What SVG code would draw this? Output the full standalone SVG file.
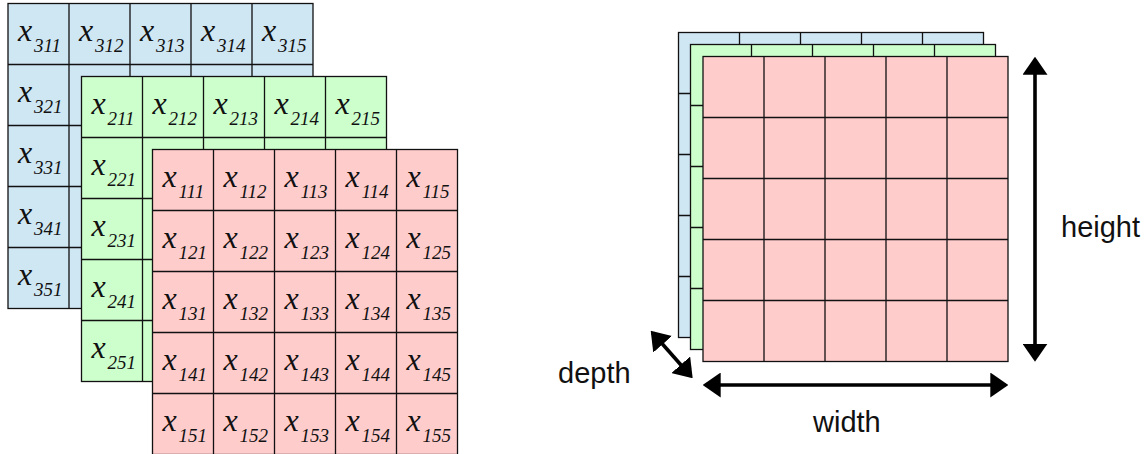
<svg xmlns="http://www.w3.org/2000/svg" xmlns:xlink="http://www.w3.org/1999/xlink" width="1146" height="454" viewBox="0 0 1146 454">
<style>
.b{fill:#cfe6f3}.g{fill:#ccffcc}.r{fill:#ffcccc}
.frame{stroke:#111;stroke-width:1.3}
.lines{fill:none;stroke:#111;stroke-width:1.3}
.v{font-family:"Liberation Serif",serif;font-style:italic;font-size:32px;fill:#111}
.s{font-size:19px}
.lab{font-family:"Liberation Sans",Arial,sans-serif;font-size:29px;fill:#111}
.arr{stroke:#000;stroke-width:3.6;fill:none;marker-start:url(#ah);marker-end:url(#ah)}
</style>
<defs>
<marker id="ah" markerUnits="userSpaceOnUse" viewBox="0 0 18 25" refX="15" refY="12.5" markerWidth="18" markerHeight="25" orient="auto-start-reverse"><path d="M0,0L18,12.5L0,25z" fill="#000"/></marker>
<path id="gl" d="M61,0V305M122,0V305M183,0V305M244,0V305M0,61H305M0,122H305M0,183H305M0,244H305"/>
</defs>
<g id="left-blue" transform="translate(8,3.5)">
<rect class="b frame" width="305" height="305"/><use href="#gl" class="lines"/>
<text class="v" x="10" y="37">x<tspan class="s" x="26" y="48">311</tspan></text>
<text class="v" x="71" y="37">x<tspan class="s" x="87" y="48">312</tspan></text>
<text class="v" x="132" y="37">x<tspan class="s" x="148" y="48">313</tspan></text>
<text class="v" x="193" y="37">x<tspan class="s" x="209" y="48">314</tspan></text>
<text class="v" x="254" y="37">x<tspan class="s" x="270" y="48">315</tspan></text>
<text class="v" x="10" y="98">x<tspan class="s" x="26" y="109">321</tspan></text>
<text class="v" x="10" y="159">x<tspan class="s" x="26" y="170">331</tspan></text>
<text class="v" x="10" y="220">x<tspan class="s" x="26" y="231">341</tspan></text>
<text class="v" x="10" y="281">x<tspan class="s" x="26" y="292">351</tspan></text>
</g>
<g id="left-green" transform="translate(81.5,76.5)">
<rect class="g frame" width="305" height="305"/><use href="#gl" class="lines"/>
<text class="v" x="10" y="37">x<tspan class="s" x="26" y="48">211</tspan></text>
<text class="v" x="71" y="37">x<tspan class="s" x="87" y="48">212</tspan></text>
<text class="v" x="132" y="37">x<tspan class="s" x="148" y="48">213</tspan></text>
<text class="v" x="193" y="37">x<tspan class="s" x="209" y="48">214</tspan></text>
<text class="v" x="254" y="37">x<tspan class="s" x="270" y="48">215</tspan></text>
<text class="v" x="10" y="98">x<tspan class="s" x="26" y="109">221</tspan></text>
<text class="v" x="10" y="159">x<tspan class="s" x="26" y="170">231</tspan></text>
<text class="v" x="10" y="220">x<tspan class="s" x="26" y="231">241</tspan></text>
<text class="v" x="10" y="281">x<tspan class="s" x="26" y="292">251</tspan></text>
</g>
<g id="left-red" transform="translate(152.5,149.5)">
<rect class="r frame" width="305" height="305"/><use href="#gl" class="lines"/>
<text class="v" x="10" y="37">x<tspan class="s" x="26" y="48">111</tspan></text>
<text class="v" x="71" y="37">x<tspan class="s" x="87" y="48">112</tspan></text>
<text class="v" x="132" y="37">x<tspan class="s" x="148" y="48">113</tspan></text>
<text class="v" x="193" y="37">x<tspan class="s" x="209" y="48">114</tspan></text>
<text class="v" x="254" y="37">x<tspan class="s" x="270" y="48">115</tspan></text>
<text class="v" x="10" y="98">x<tspan class="s" x="26" y="109">121</tspan></text>
<text class="v" x="71" y="98">x<tspan class="s" x="87" y="109">122</tspan></text>
<text class="v" x="132" y="98">x<tspan class="s" x="148" y="109">123</tspan></text>
<text class="v" x="193" y="98">x<tspan class="s" x="209" y="109">124</tspan></text>
<text class="v" x="254" y="98">x<tspan class="s" x="270" y="109">125</tspan></text>
<text class="v" x="10" y="159">x<tspan class="s" x="26" y="170">131</tspan></text>
<text class="v" x="71" y="159">x<tspan class="s" x="87" y="170">132</tspan></text>
<text class="v" x="132" y="159">x<tspan class="s" x="148" y="170">133</tspan></text>
<text class="v" x="193" y="159">x<tspan class="s" x="209" y="170">134</tspan></text>
<text class="v" x="254" y="159">x<tspan class="s" x="270" y="170">135</tspan></text>
<text class="v" x="10" y="220">x<tspan class="s" x="26" y="231">141</tspan></text>
<text class="v" x="71" y="220">x<tspan class="s" x="87" y="231">142</tspan></text>
<text class="v" x="132" y="220">x<tspan class="s" x="148" y="231">143</tspan></text>
<text class="v" x="193" y="220">x<tspan class="s" x="209" y="231">144</tspan></text>
<text class="v" x="254" y="220">x<tspan class="s" x="270" y="231">145</tspan></text>
<text class="v" x="10" y="281">x<tspan class="s" x="26" y="292">151</tspan></text>
<text class="v" x="71" y="281">x<tspan class="s" x="87" y="292">152</tspan></text>
<text class="v" x="132" y="281">x<tspan class="s" x="148" y="292">153</tspan></text>
<text class="v" x="193" y="281">x<tspan class="s" x="209" y="292">154</tspan></text>
<text class="v" x="254" y="281">x<tspan class="s" x="270" y="292">155</tspan></text>
</g>
<g id="right-blue" transform="translate(678.5,32.5)"><rect class="b frame" width="305" height="305"/><use href="#gl" class="lines"/></g>
<g id="right-green" transform="translate(690.5,44.5)"><rect class="g frame" width="305" height="305"/><use href="#gl" class="lines"/></g>
<g id="right-red" transform="translate(703,56.5)"><rect class="r frame" width="305" height="305"/><use href="#gl" class="lines"/></g>
<g id="connectors">
<line class="arr" x1="1035" y1="59.7" x2="1035" y2="358.7"/>
<line class="arr" x1="705.7" y1="385" x2="1005.3" y2="385"/>
<line class="arr" x1="652.7" y1="333" x2="690.7" y2="376"/>
</g>
<g id="labels">
<text class="lab" x="1061" y="237">height</text>
<text class="lab" x="813" y="432">width</text>
<text class="lab" x="558" y="383">depth</text>
</g>
</svg>
